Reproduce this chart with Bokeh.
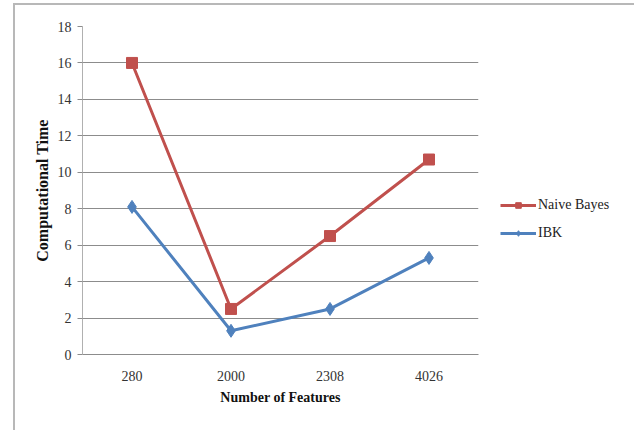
from bokeh.plotting import figure
from bokeh.models import Legend, LegendItem, FixedTicker
from bokeh.embed import file_html
from bokeh.resources import INLINE

# Computational time per feature-set size
features = ["280", "2000", "2308", "4026"]
naive_bayes = [16.0, 2.5, 6.5, 10.7]
ibk = [8.1, 1.3, 2.5, 5.3]
y_ticks = [0, 2, 4, 6, 8, 10, 12, 14, 16, 18]

RED = "#c0504d"
BLUE = "#4f81bd"
SERIF = "Liberation Serif"

p = figure(
    x_range=features, y_range=(0, 18),
    frame_width=396, frame_height=328,
    output_backend="svg", toolbar_location=None,
    min_border_left=67, min_border_right=148,
    min_border_top=21, min_border_bottom=76,
    background_fill_color="white", border_fill_color="white",
)
p.styles = {"margin-left": "15px", "margin-top": "5px",
            "outline": "2px solid #b8b8b8"}
p.outline_line_color = None

# grid
p.xgrid.grid_line_color = None
p.ygrid.grid_line_color = "#8c8c8c"
p.ygrid.grid_line_width = 1.2
p.yaxis.ticker = FixedTicker(ticks=y_ticks)

# axes
p.yaxis.axis_line_color = "#b0b0b0"
p.yaxis.major_tick_line_color = "#8c8c8c"
p.yaxis.major_tick_out = 5
p.yaxis.major_tick_in = 0
p.yaxis.minor_tick_line_color = None
p.xaxis.axis_line_color = "#8c8c8c"
p.xaxis.major_tick_line_color = None
p.xaxis.minor_tick_line_color = None
for ax in (p.xaxis[0], p.yaxis[0]):
    ax.major_label_text_font = SERIF
    ax.major_label_text_font_size = "14px"
    ax.major_label_text_color = "#333333"
    ax.axis_label_text_font = SERIF
    ax.axis_label_text_font_style = "bold"
    ax.axis_label_text_color = "#111111"
p.xaxis.axis_label = "Number of Features"
p.yaxis.axis_label = "Computational Time"
p.xaxis.axis_label_text_font_size = "14px"
p.yaxis.axis_label_text_font_size = "16px"
p.xaxis.major_label_standoff = 10
p.xaxis.axis_label_standoff = 6
p.yaxis.major_label_standoff = 6
p.yaxis.axis_label_standoff = 4

# series
nb_line = p.line(features, naive_bayes, line_color=RED, line_width=3)
nb_pts = p.scatter(features, naive_bayes, marker="square", size=11,
                   fill_color=RED, line_color=RED)
ibk_line = p.line(features, ibk, line_color=BLUE, line_width=3)
ibk_pts = p.scatter(features, ibk, marker="diamond", size=13,
                    fill_color=BLUE, line_color=BLUE)

legend = Legend(
    items=[
        LegendItem(label="Naive Bayes", renderers=[nb_line, nb_pts]),
        LegendItem(label="IBK", renderers=[ibk_line, ibk_pts]),
    ],
    location=(22, 113),
    border_line_color=None, background_fill_alpha=0,
    label_text_font=SERIF, label_text_font_size="14px",
    label_text_color="#222222",
    glyph_width=36, glyph_height=14, spacing=12,
    padding=0, margin=0, label_standoff=2,
)
p.add_layout(legend, "right")

open("out.html", "w").write(file_html(p, INLINE))
